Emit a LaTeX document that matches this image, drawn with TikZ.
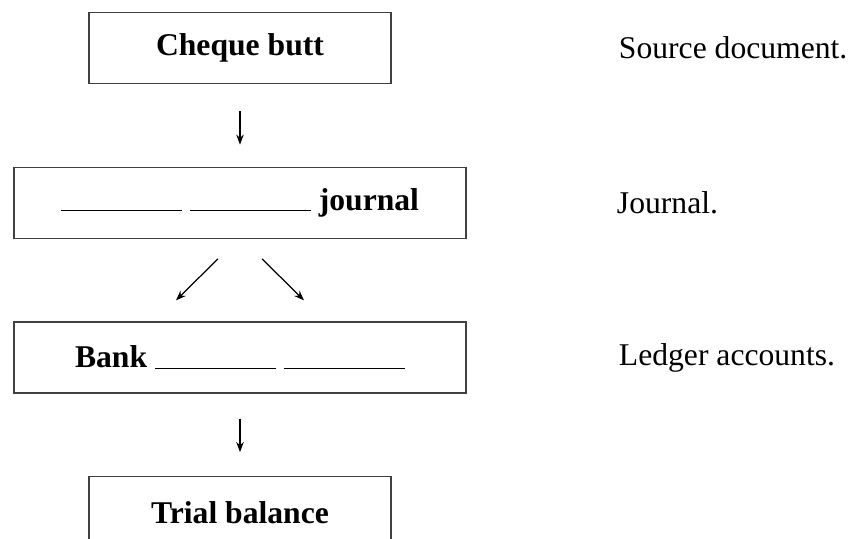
\documentclass[tikz,border=0pt]{standalone}
\usepackage{fontspec}
\setmainfont{Liberation Serif}
\usetikzlibrary{positioning, arrows.meta}

\newcommand{\blank}{\rule[-0.6pt]{2.42cm}{0.8pt}}

\begin{document}
\begin{tikzpicture}[
            stage/.style={rectangle, draw=black!75, line width=0.7pt, minimum height=1.42cm,
                          align=center, inner sep=0pt, font=\fontsize{18}{22}\selectfont\bfseries},
            note/.style={inner sep=0pt, font=\fontsize{18}{22}\selectfont},
            flow/.style={-{Stealth[length=2mm, width=1.5mm]}, line width=0.7pt},
            node distance=1.65cm % gap between the boxes
        ]
            \useasboundingbox (0,0) rectangle (17.02,-10.78);

            % Boxes
            \node[stage, minimum width=6.04cm] (cb) at (4.8,-0.96) {Cheque butt};
            \node[stage, minimum width=9.04cm, below=of cb] (cj) {\blank\ \blank\ journal};
            \node[stage, minimum width=9.04cm, below=of cj] (la) {Bank \blank\ \blank};
            \node[stage, minimum width=6.04cm, below=of la] (tb) {Trial balance};

            % Arrows
            \draw[flow, shorten <=0.54cm, shorten >=0.44cm] (cb) -- (cj);
            \draw[flow] ([xshift=-0.44cm, yshift=-0.4cm]cj.south) -- ([xshift=-1.28cm, yshift=0.42cm]la.north);
            \draw[flow] ([xshift=0.44cm, yshift=-0.4cm]cj.south) -- ([xshift=1.28cm, yshift=0.42cm]la.north);
            \draw[flow, shorten <=0.5cm, shorten >=0.48cm] (la) -- (tb);

            % Notes on the right
            \node[note, right=4.54cm of cb] (sd) {Source document.};
            \node[note, right=3cm of cj] (jn) {Journal.};
            \node[note, right=3.04cm of la] (lg) {Ledger accounts.};

        \end{tikzpicture}
\end{document}
